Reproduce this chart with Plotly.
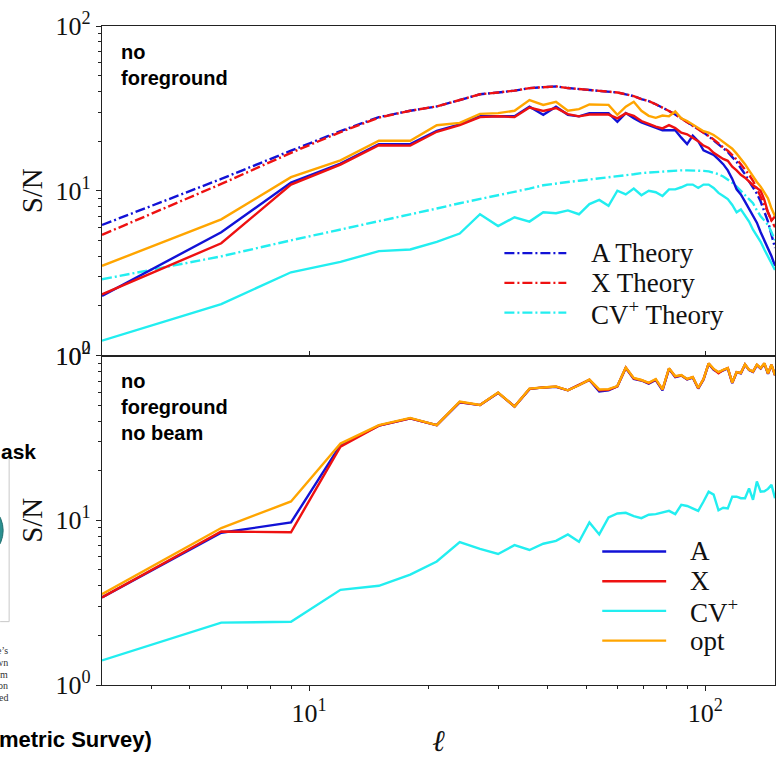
import plotly.graph_objects as go
from plotly.subplots import make_subplots

# ---------------- data ----------------
ell = [3 * k for k in range(1, 51)]  # multipole bins 3..150

top_A_theory = [6.2, 11.8, 17.5, 23.0, 28.0, 30.6, 32.5, 35.5, 38.5, 39.5,
                40.5, 42.0, 42.5, 43.0, 42.0, 41.5, 41.0, 40.5, 40.2, 39.5,
                38.5, 37.5, 36.0, 35.0, 33.5, 32.0, 30.5, 29.0, 27.5, 26.2,
                25.0, 23.8, 22.6, 21.4, 20.2, 19.0, 18.0, 17.2, 16.0, 15.0,
                13.7, 12.6, 11.4, 10.5, 9.6, 8.6, 7.5, 6.5, 5.4, 4.5]
top_X_theory = [5.4, 11.0, 17.0, 22.7, 27.8, 30.6, 32.5, 35.5, 38.5, 39.5,
                40.5, 42.0, 42.5, 43.0, 42.0, 41.5, 41.0, 40.5, 40.2, 39.5,
                38.5, 37.5, 36.0, 35.0, 33.5, 32.0, 30.5, 29.0, 27.5, 26.2,
                25.0, 23.8, 22.6, 21.5, 20.5, 19.3, 18.3, 17.5, 16.5, 15.5,
                14.5, 13.5, 12.5, 11.5, 10.3, 9.3, 8.3, 7.4, 6.6, 6.0]
top_CV_theory = [2.9, 4.0, 5.0, 5.8, 6.5, 7.2, 7.8, 8.4, 8.9, 9.4,
                 9.9, 10.3, 10.8, 11.1, 11.3, 11.5, 11.7, 11.8, 12.0, 12.2,
                 12.4, 12.6, 12.8, 12.9, 13.0, 13.1, 13.2, 13.3, 13.3, 13.3,
                 13.3, 13.2, 13.2, 13.1, 12.9, 12.6, 12.2, 11.7, 11.2, 10.6,
                 10.0, 9.4, 8.9, 8.4, 7.6, 7.0, 6.6, 6.2, 5.6, 5.0]
top_A = [2.3, 5.6, 11.2, 14.6, 19.2, 19.2, 23.1, 25.3, 28.3, 28.3,
         28.3, 32.4, 28.9, 32.4, 28.9, 28.3, 29.6, 29.6, 29.6, 26.2,
         29.6, 27.6, 26.0, 25.0, 24.0, 23.3, 23.3, 23.3, 21.0, 19.2,
         21.6, 20.0, 17.6, 17.0, 16.5, 15.5, 14.5, 13.3, 11.8, 10.2,
         9.5, 8.6, 7.8, 7.0, 6.4, 5.6, 5.0, 4.5, 4.0, 3.5]
top_X = [2.35, 4.8, 10.9, 14.4, 18.9, 18.8, 22.8, 25.0, 28.0, 28.3,
         28.0, 32.0, 30.5, 31.8, 29.2, 28.3, 29.0, 29.0, 29.0, 27.5,
         29.5, 28.5, 26.5, 25.5, 24.5, 23.9, 25.0, 24.0, 22.5, 22.0,
         21.0, 20.0, 18.8, 18.2, 17.0, 16.2, 15.6, 15.2, 14.0, 13.3,
         12.5, 12.0, 11.3, 10.8, 10.4, 10.0, 8.8, 7.4, 6.6, 7.0]
top_CV = [1.23, 2.05, 3.2, 3.7, 4.3, 4.4, 4.9, 5.5, 7.2, 6.1,
          6.9, 6.5, 7.4, 7.3, 7.6, 7.2, 8.3, 8.8, 8.1, 10.0,
          9.5, 10.3, 9.4, 10.0, 9.8, 9.3, 10.2, 10.2, 10.5, 10.9,
          10.9, 10.4, 10.9, 10.9, 10.4, 9.7, 9.3, 8.9, 8.2, 7.4,
          7.7, 7.0, 6.5, 5.8, 5.3, 4.9, 4.4, 4.0, 3.6, 3.3]
top_opt = [3.5, 6.7, 12.1, 15.3, 20.1, 20.1, 25.0, 25.8, 29.3, 29.6,
           30.6, 35.5, 33.2, 34.7, 30.6, 31.3, 33.4, 33.4, 33.2, 28.9,
           32.4, 34.7, 30.6, 28.5, 27.7, 28.6, 28.3, 30.3, 27.5, 26.5,
           25.3, 24.0, 23.0, 22.5, 21.8, 20.8, 19.8, 19.0, 18.0, 16.8,
           15.7, 14.5, 13.3, 12.2, 11.3, 10.6, 9.8, 9.0, 7.8, 7.0]

bot_A = [3.40, 8.40, 9.70, 28.7, 37.5, 41.5, 37.8, 52.0, 50.0, 59.3,
         49.0, 62.5, 64.0, 64.5, 61.5, 66.0, 71.0, 60.5, 61.5, 65.0,
         84.0, 72.0, 70.5, 67.5, 71.0, 61.5, 83.0, 74.0, 75.5, 71.5,
         73.5, 63.0, 71.5, 89.0, 82.0, 79.0, 81.5, 83.5, 68.0, 79.0,
         78.0, 88.0, 81.5, 79.5, 87.5, 83.5, 89.0, 77.5, 87.5, 76.0]
bot_X = [3.40, 8.55, 8.45, 28.0, 37.5, 41.5, 37.8, 52.2, 50.0, 59.5,
         49.0, 62.7, 64.0, 64.7, 61.5, 66.0, 71.2, 61.5, 62.0, 65.0,
         84.3, 72.5, 70.8, 68.0, 71.5, 62.0, 83.3, 74.5, 75.8, 71.8,
         73.8, 63.3, 71.8, 89.5, 82.5, 78.0, 81.7, 83.8, 68.3, 79.2,
         78.2, 88.2, 81.8, 79.8, 87.8, 83.8, 89.5, 77.8, 87.8, 76.0]
bot_CV = [1.41, 2.39, 2.42, 3.78, 4.0, 4.68, 5.62, 7.38, 6.7, 6.24,
          7.06, 6.6, 7.2, 7.5, 8.2, 7.4, 9.7, 8.2, 10.4, 11.0,
          11.1, 10.6, 10.3, 10.8, 10.9, 11.2, 11.4, 10.9, 12.4, 12.2,
          11.8, 11.4, 13.0, 14.9, 14.3, 11.5, 11.9, 11.8, 13.9, 13.9,
          13.6, 13.6, 15.6, 13.3, 17.2, 14.9, 15.0, 15.5, 16.4, 13.6]
bot_opt = [3.56, 8.97, 13.0, 29.2, 37.8, 41.8, 37.8, 52.5, 50.1, 59.6,
           49.0, 62.9, 64.0, 64.9, 61.5, 66.0, 71.4, 62.2, 62.5, 65.2,
           84.6, 73.1, 71.0, 68.3, 72.0, 62.2, 83.7, 74.8, 76.0, 72.0,
           74.0, 63.5, 72.0, 89.7, 82.9, 79.3, 81.9, 84.0, 68.5, 79.3,
           78.3, 88.4, 82.0, 80.0, 88.0, 84.0, 89.7, 78.0, 88.0, 76.0]

top_legend = ["A Theory", "X Theory", "CV<sup>+</sup> Theory"]
bot_legend = ["A", "X", "CV<sup>+</sup>", "opt"]
y_ticks = [1, 10, 100]
y_ticktext = ["10<sup>0</sup>", "10<sup>1</sup>", "10<sup>2</sup>"]
x_ticks = [10, 100]
x_ticktext = ["10<sup>1</sup>", "10<sup>2</sup>"]

# ---------------- style ----------------
W, H = 784, 759
L, R, T, B = 102, 8, 19, 64
PW, PH = W - L - R, H - T - B
BLUE, RED, CYAN, ORANGE = "#1212d6", "#ee1111", "#22eef0", "#ffa500"
DASHDOT = "10px,3px,2px,3px"
SERIF = "Liberation Serif, Times New Roman, serif"
SANS = "Liberation Sans, Arial, Helvetica, sans-serif"
LW = 2.4


def px(x):
    return (x - L) / PW


def py(y):
    return (H - B - y) / PH


fig = make_subplots(rows=2, cols=1, shared_xaxes=True, vertical_spacing=0)

# top panel
for vals, col in [(top_A_theory, BLUE), (top_X_theory, RED), (top_CV_theory, CYAN)]:
    fig.add_trace(go.Scatter(x=ell, y=vals, mode="lines", showlegend=False,
                             line=dict(color=col, width=LW, dash=DASHDOT)), row=1, col=1)
for vals, col in [(top_A, BLUE), (top_X, RED), (top_CV, CYAN), (top_opt, ORANGE)]:
    fig.add_trace(go.Scatter(x=ell, y=vals, mode="lines", showlegend=False,
                             line=dict(color=col, width=LW)), row=1, col=1)
# bottom panel
for vals, col in [(bot_A, BLUE), (bot_X, RED), (bot_CV, CYAN), (bot_opt, ORANGE)]:
    fig.add_trace(go.Scatter(x=ell, y=vals, mode="lines", showlegend=False,
                             line=dict(color=col, width=LW)), row=2, col=1)

minor_x = [4, 5, 6, 7, 8, 9, 20, 30, 40, 50, 60, 70, 80, 90]
minor_y = [2, 3, 4, 5, 6, 7, 8, 9, 20, 30, 40, 50, 60, 70, 80, 90]

common_ax = dict(showline=True, mirror=True, linecolor="#222", linewidth=1.2,
                 showgrid=False, zeroline=False, tickcolor="#222", tickwidth=1.2)

fig.update_xaxes(type="log", range=[0.47712, 2.17609], **common_ax)
fig.update_xaxes(row=1, col=1, tickmode="array", tickvals=x_ticks, ticks="inside",
                 ticklen=4, showticklabels=False)
fig.update_xaxes(row=2, col=1, tickmode="array", tickvals=x_ticks, ticktext=x_ticktext,
                 ticks="outside", ticklen=5,
                 tickfont=dict(family=SERIF, size=26, color="#111"),
                 minor=dict(tickvals=minor_x, ticks="outside", ticklen=3,
                            tickcolor="#222", tickwidth=1),
                 title=dict(text="<i>ℓ</i>", font=dict(family=SERIF, size=30, color="#111"),
                            standoff=2))
fig.update_yaxes(type="log", range=[0, 2], tickmode="array", tickvals=y_ticks,
                 ticktext=y_ticktext, ticks="outside", ticklen=5,
                 tickfont=dict(family=SERIF, size=26, color="#111"),
                 minor=dict(tickvals=minor_y, ticks="outside", ticklen=3,
                            tickcolor="#222", tickwidth=1),
                 title=dict(text="S/N", font=dict(family=SERIF, size=29, color="#111"),
                            standoff=4),
                 **common_ax)

annotations = []
shapes = []

# panel labels
annotations.append(dict(xref="paper", yref="paper", x=px(119), y=py(32), xanchor="left",
                        yanchor="top", align="left", showarrow=False,
                        text="<b>no<br>foreground</b>",
                        font=dict(family=SANS, size=20, color="#000")))
annotations.append(dict(xref="paper", yref="paper", x=px(119), y=py(370), xanchor="left",
                        yanchor="top", align="left", showarrow=False,
                        text="<b>no<br>foreground<br>no beam</b>",
                        font=dict(family=SANS, size=20, color="#000")))

# custom legends (top: dash-dot theory curves)
for i, (lab, col) in enumerate(zip(top_legend, [BLUE, RED, CYAN])):
    yy = 252 + i * 30.5
    shapes.append(dict(type="line", xref="paper", yref="paper", x0=px(505), x1=px(567),
                       y0=py(yy), y1=py(yy), line=dict(color=col, width=LW, dash=DASHDOT)))
    annotations.append(dict(xref="paper", yref="paper", x=px(590), y=py(yy), xanchor="left",
                            yanchor="middle", showarrow=False, text=lab,
                            font=dict(family=SERIF, size=27, color="#111")))
# bottom legend
for i, (lab, col) in enumerate(zip(bot_legend, [BLUE, RED, CYAN, ORANGE])):
    yy = 558 + i * 30.5
    shapes.append(dict(type="line", xref="paper", yref="paper", x0=px(603), x1=px(667),
                       y0=py(yy), y1=py(yy), line=dict(color=col, width=LW)))
    annotations.append(dict(xref="paper", yref="paper", x=px(689), y=py(yy), xanchor="left",
                            yanchor="middle", showarrow=False, text=lab,
                            font=dict(family=SERIF, size=27, color="#111")))

# cropped neighbouring-figure fragments on the left edge
annotations.append(dict(xref="paper", yref="paper", x=px(-1), y=py(455), xanchor="left",
                        yanchor="middle", showarrow=False, text="<b>ask</b>",
                        font=dict(family=SANS, size=21, color="#000")))
annotations.append(dict(xref="paper", yref="paper", x=px(-3), y=py(751), xanchor="left",
                        yanchor="middle", showarrow=False, text="<b>metric Survey)</b>",
                        font=dict(family=SANS, size=22, color="#000")))
for j, frag in enumerate(["e’s", "wn", "om", "on", "ed"]):
    annotations.append(dict(xref="paper", yref="paper", x=px(10), y=py(660 + j * 12),
                            xanchor="right", yanchor="middle", showarrow=False, text=frag,
                            font=dict(family=SERIF, size=10, color="#333")))
shapes.append(dict(type="line", xref="paper", yref="paper", x0=px(9), x1=px(9),
                   y0=py(463), y1=py(630), line=dict(color="#c8c8c8", width=1)))
shapes.append(dict(type="line", xref="paper", yref="paper", x0=px(0), x1=px(9),
                   y0=py(630), y1=py(630), line=dict(color="#c8c8c8", width=1)))
shapes.append(dict(type="circle", xref="paper", yref="paper", x0=px(-60), x1=px(3),
                   y0=py(505), y1=py(568), fillcolor="#2a8f8f", line=dict(color="#1d6d6d", width=1)))

fig.update_layout(width=W, height=H, margin=dict(l=L, r=R, t=T, b=B),
                  paper_bgcolor="white", plot_bgcolor="white", showlegend=False,
                  annotations=annotations, shapes=shapes)

fig.write_html("out.html")
